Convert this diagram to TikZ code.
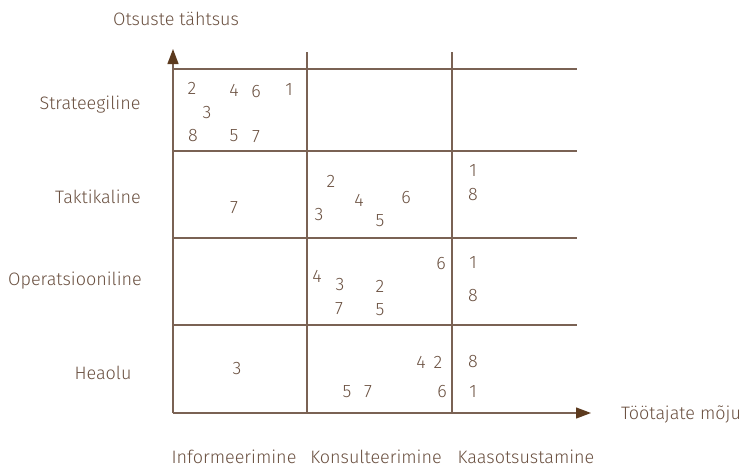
\documentclass[tikz,border=0pt]{standalone}
\usepackage{fontspec}
\setmainfont{Fira Sans}[UprightFont=* Light]
\usetikzlibrary{arrows.meta}
\definecolor{braun}{HTML}{5C3A1E}
\definecolor{linie}{HTML}{7A6254}
\definecolor{schrift}{HTML}{6A5040}
\tikzset{
  achse/.style={-{Triangle[length=15pt,width=11pt,color=braun]},linie,line width=1.3pt},
  gitter/.style={linie,line width=1.3pt},
  etikett/.style={schrift,inner sep=0pt,font=\fontsize{18}{20}\selectfont},
  zahl/.style={schrift,inner sep=0pt,font=\fontsize{18}{20}\selectfont},
}
\begin{document}
\begin{tikzpicture}[x=1pt,y=-1pt]
  \useasboundingbox (0,0) rectangle (745,467);
  % axes
  \coordinate (O) at (173,413);
  \coordinate (ytip) at (173,49);
  \coordinate (xtip) at (591,413);
  % grid
  \foreach \y in {69,151,238,325}{\draw[gitter] (173,\y)--(577,\y);}
  \foreach \x in {307,452}{\draw[gitter] (\x,52)--(\x,413);}
  \draw[achse] (O)--(ytip);
  \draw[achse] (O)--(xtip);
  % axis titles
  \node[etikett] (yt) at (176,19) {Otsuste tähtsus};
  \node[etikett] (xt) at (681,414) {Töötajate mõju};
  % row labels
  \node[etikett] (r1) at (90,105) {Strateegiline};
  \node[etikett] (r2) at (98,197) {Taktikaline};
  \node[etikett] (r3) at (75,281) {Operatsiooniline};
  \node[etikett] (r4) at (103,373) {Heaolu};
  % column labels
  \node[etikett] (c1) at (234,457) {Informeerimine};
  \node[etikett] (c2) at (376,457) {Konsulteerimine};
  \node[etikett] (c3) at (526,457) {Kaasotsustamine};
  % numbers
  \foreach \t/\x/\y in {2/192/88,4/234/90,6/256/92,1/289/90,3/207/113,8/193/136,5/234/136,7/256/137}
    {\node[zahl] (s\t) at (\x,\y) {\t};}
  \foreach \t/\x/\y in {7/234/208,2/331/181,4/359/200,6/406/198,3/319/215,5/380/221,1/473/171,8/473/195}
    {\node[zahl] (t\t) at (\x,\y) {\t};}
  \foreach \t/\x/\y in {6/441/264,4/317/276,3/340/285,2/380/286,7/339/309,5/380/310,1/473/263,8/473/296}
    {\node[zahl] (o\t) at (\x,\y) {\t};}
  \foreach \t/\x/\y in {3/237/369,4/421/362,2/438/362,8/473/362,5/347/392,7/368/392,6/442/392,1/473/392}
    {\node[zahl] (h\t) at (\x,\y) {\t};}
\end{tikzpicture}
\end{document}
